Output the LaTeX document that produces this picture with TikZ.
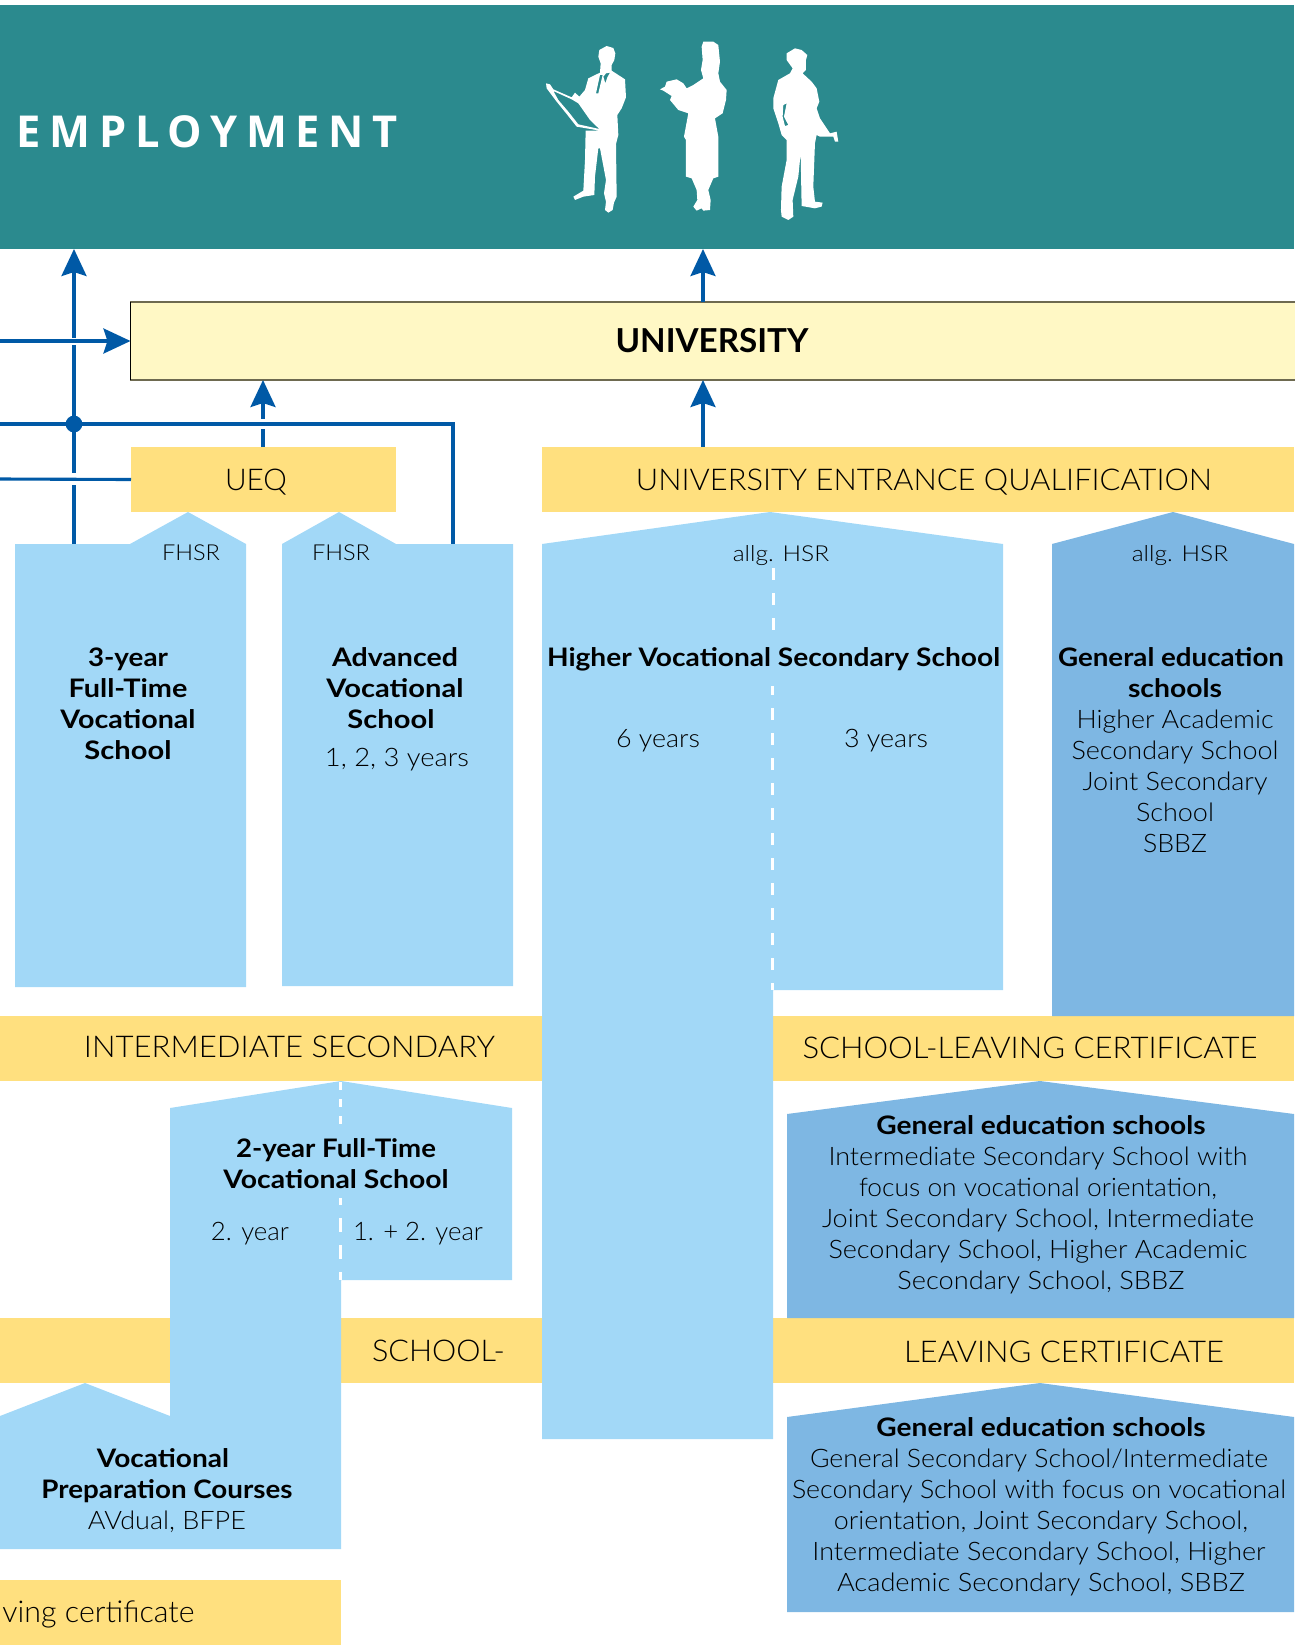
\documentclass[tikz,border=0pt]{standalone}
\usepackage{graphicx}
\usepackage{fontspec}
\setmainfont{Lato Light}[BoldFont={Lato Bold}]
\newfontfamily\empfont[LetterSpace=20]{Open Sans}
\usetikzlibrary{arrows.meta}
\definecolor{teal1}{HTML}{2B8A8E}
\definecolor{ltblue}{HTML}{A2D8F7}
\definecolor{dkblue}{HTML}{7EB7E3}
\definecolor{gold}{HTML}{FFE07F}
\definecolor{cream}{HTML}{FFF8C5}
\definecolor{flow}{HTML}{0059A6}
\definecolor{rim}{HTML}{6E6A50}
\newcommand\fw[2]{\resizebox{#1pt}{\height}{#2}}
\tikzset{
  bar/.style={fill=gold,inner sep=0pt,outer sep=0pt,text=black},
  lab/.style={inner sep=0pt,outer sep=0pt,align=center,text=black,font=\fontsize{25.5}{31}\selectfont},
  small/.style={lab,font=\fontsize{22}{26}\selectfont},
  caps/.style={inner sep=0pt,outer sep=0pt,text=black,font=\fontsize{30}{34}\selectfont},
  pale/.style={fill=ltblue},
  deep/.style={fill=dkblue},
  flowline/.style={draw=flow,line width=3.1pt},
  gapline/.style={draw=white,line width=6pt},
  arrowline/.style={flowline,-{Stealth[length=27pt,width=25pt,inset=4pt]}},
  splitline/.style={draw=white,line width=3pt,dash pattern=on 12pt off 13pt},
  person/.style={fill=white,even odd rule},
}
\begin{document}
\begin{tikzpicture}[x=1pt,y=-1pt]
\useasboundingbox (0,0) rectangle (1294,1647);
% employment band
\node[fill=teal1,inner sep=0pt,outer sep=0pt,minimum width=1294pt,minimum height=244pt] (emp) at (647,127) {};
\node[inner sep=0pt,text=white,anchor=base west,font=\fontsize{44}{48}\selectfont\empfont\bfseries] (emptxt) at (16.5,147) {\fw{381}{EMPLOYMENT}};
% people
\begin{scope}[shift={(500,20)},x=0.3333pt,y=-0.3333pt]
\fill[person] (320,78)--(340,84)--(346,100)--(343,120)--(335,135)--(335,152)--(375,178)--(378,232)--(365,265)--(352,285)--(355,345)--(348,372)--(350,530)--(342,548)--(338,570)--(325,578)--(315,570)--(318,545)--(312,520)--(318,480)--(300,385)--(295,385)--(285,470)--(283,525)--(250,530)--(225,540)--(220,530)--(250,512)--(255,420)--(257,332)--(300,332)--(230,320)--(200,282)--(170,245)--(140,205)--(138,190)--(150,193)--(160,208)--(215,232)--(225,218)--(238,230)--(255,210)--(265,175)--(300,158)--(302,130)--(295,110)--(298,90)--cycle
 (160,213)--(215,238)--(235,250)--(270,300)--(298,327)--(235,313)--(205,275)--(175,240)--cycle
 (300,165)--(308,165)--(295,220)--(288,220)--cycle
 (330,158)--(322,172)--(316,190)--(310,170)--(318,160)--cycle;
\fill[person] (610,65)--(640,65)--(655,75)--(660,125)--(655,160)--(660,185)--(680,210)--(678,240)--(668,280)--(645,295)--(655,350)--(655,470)--(640,475)--(625,510)--(632,540)--(630,570)--(610,572)--(605,565)--(590,572)--(580,560)--(592,540)--(590,510)--(575,475)--(558,470)--(558,360)--(552,350)--(565,280)--(535,270)--(510,240)--(515,228)--(490,212)--(480,208)--(495,200)--(500,185)--(530,178)--(550,190)--(560,205)--(580,195)--(610,175)--(603,150)--(608,120)--(605,80)--cycle;
\fill[person] (885,85)--(905,90)--(922,105)--(918,120)--(918,150)--(908,160)--(935,185)--(950,205)--(958,245)--(950,265)--(960,295)--(990,340)--(1010,335)--(1015,365)--(1005,365)--(1000,350)--(960,350)--(950,345)--(945,370)--(940,500)--(945,545)--(968,548)--(965,560)--(945,565)--(905,558)--(902,400)--(895,470)--(878,540)--(880,590)--(865,600)--(845,590)--(843,570)--(845,500)--(860,420)--(860,360)--(845,345)--(835,310)--(820,265)--(820,235)--(835,180)--(870,160)--(878,145)--(860,120)--(860,100)--cycle
 (850,255)--(860,250)--(852,290)--(865,315)--(855,318)--(848,290)--cycle;
\end{scope}
% university
\node[fill=cream,draw=rim,line width=1.2pt,inner sep=0pt,outer sep=0pt,minimum width=1180pt,minimum height=78pt] (uni) at (720.5,341) {};
\draw[black,line width=1pt] (uni.north west) -- (uni.south west);
\node[inner sep=0pt,font=\fontsize{33}{36}\selectfont\bfseries,anchor=base] (unitxt) at (712,352) {\fw{193}{UNIVERSITY}};
% yellow bars
\node[bar,minimum width=265pt,minimum height=65pt] (ueq) at (263.5,479.5) {};
\node[bar,minimum width=752pt,minimum height=65pt] (uqual) at (918,479.5) {};
\node[bar,minimum width=542pt,minimum height=65pt] (imedL) at (271,1048.5) {};
\node[bar,minimum width=521pt,minimum height=65pt] (imedR) at (1033.5,1048.5) {};
\node[bar,minimum width=542pt,minimum height=65pt] (leaveL) at (271,1350.5) {};
\node[bar,minimum width=521pt,minimum height=65pt] (leaveR) at (1033.5,1350.5) {};
\node[bar,minimum width=341pt,minimum height=65pt] (basic) at (170.5,1612.5) {};
% blue shapes
\fill[pale] (15,544)--(130,544)--(188,512)--(246,544)--(246,987)--(15,987)--cycle;
\fill[pale] (282,544)--(339,512)--(396,544)--(513,544)--(513,986)--(282,986)--cycle;
\fill[pale] (542,544)--(770,512)--(1003,544)--(1003,990)--(773,990)--(773,1439)--(542,1439)--cycle;
\fill[deep] (1052,544)--(1173,512)--(1294,544)--(1294,1016)--(1052,1016)--cycle;
\fill[deep] (787,1114)--(1040,1081)--(1294,1114)--(1294,1318)--(787,1318)--cycle;
\fill[deep] (787,1417)--(1040,1383)--(1294,1417)--(1294,1612)--(787,1612)--cycle;
\fill[pale] (170,1108)--(341,1081)--(512,1108)--(512,1280)--(341,1280)--(341,1549)--(0,1549)--(0,1416)--(85,1383)--(170,1416)--cycle;
% dashed dividers
\draw[splitline] (773,568)--(773,640);
\draw[splitline,dash phase=3pt] (772,686)--(772,990);
\draw[draw=white,line width=3pt,dash pattern=on 8pt off 9pt] (340,1082)--(340,1124);
\draw[draw=white,line width=3pt,dash pattern=on 7pt off 13pt] (340,1198)--(340,1205);
\draw[draw=white,line width=3pt,dash pattern=on 14pt off 13pt] (340,1218)--(340,1280);
% connectors
\coordinate (leftA) at (0,341);
\coordinate (leftB) at (0,424);
\coordinate (leftC) at (0,479);
\coordinate (voc3) at (74,544);
\coordinate (adv) at (453,544);
\coordinate (bend) at (453,424);
\coordinate (junction) at (74,424);
\draw[arrowline] (voc3) -- (voc3 |- emp.south);
\draw[gapline] (74,337.5) -- (74,344.5);
\draw[gapline] (74,473) -- (74,485);
\draw[arrowline] (leftA) -- (uni.west);
\draw[flowline] (leftC) -- (ueq.west);
\draw[arrowline] (uni.north -| 703,0) -- (emp.south -| 703,0);
\draw[arrowline] (uqual.north -| 703,0) -- (uni.south -| 703,0);
\draw[arrowline] (ueq.north -| 263,0) -- (uni.south -| 263,0);
\draw[gapline] (263,419) -- (263,429);
\draw[flowline] (leftB) -- (bend) -- (adv);
\fill[flow] (junction) circle (8.4pt);
% bar labels
\node[small,anchor=base] (ueqtxt) at (256,490) {\resizebox{62pt}{\height}{\fontsize{30}{34}\selectfont UEQ}};
\node[caps,anchor=base] (uqtxt) at (924,490) {\fw{576}{UNIVERSITY ENTRANCE QUALIFICATION}};
\node[caps,anchor=base] (imtxt) at (289.5,1057) {\fw{411}{INTERMEDIATE SECONDARY}};
\node[caps,anchor=base] (sltxt) at (1030,1058) {\fw{455}{SCHOOL-LEAVING CERTIFICATE}};
\node[caps,anchor=base] (sctxt) at (438.5,1361) {\fw{133}{SCHOOL-}};
\node[caps,anchor=base] (lctxt) at (1064,1362) {\fw{320}{LEAVING CERTIFICATE}};
\node[caps,anchor=base] (bstxt) at (98.5,1622) {\fw{192}{ving certificate}};
% small labels
\node[small,anchor=base] (f1) at (191,560) {\fw{58}{FHSR}};
\node[small,anchor=base] (f2) at (341,560) {\fw{58}{FHSR}};
\node[small,anchor=base] (h1) at (781,561) {\fw{96.5}{allg. HSR}};
\node[small,anchor=base] (h2) at (1180,561) {\fw{96.5}{allg. HSR}};
% school labels
\node[lab,anchor=north] (t3y) at (128,648) {\fw{80}{\textbf{3-year}}\\\fw{119}{\textbf{Full-Time}}\\\fw{135}{\textbf{Vocational}}\\\fw{87}{\textbf{School}}};
\node[lab,anchor=north] (tadv) at (395,648) {\fw{126}{\textbf{Advanced}}\\\fw{137}{\textbf{Vocational}}\\\fw{87}{\textbf{School}}\hspace*{8pt}};
\node[lab,anchor=base] (tadvy) at (397,766) {\fw{144}{1, 2, 3 years}};
\node[lab,anchor=base] (thv) at (773.5,666) {\fw{453}{\textbf{Higher Vocational Secondary School}}};
\node[lab,anchor=base] (t6) at (658,747) {\fw{84}{6 years}};
\node[lab,anchor=base] (t3) at (886,747) {\fw{84}{3 years}};
\node[lab,anchor=north] (tgen) at (1175,648) {\fw{226}{\textbf{General education}}\hspace*{8pt}\\\fw{94}{\textbf{schools}}\\\fw{197}{Higher Academic}\\\fw{207}{Secondary School}\\\fw{185}{Joint Secondary}\\\fw{78}{School}\\\fw{64}{SBBZ}};
\node[lab,anchor=north] (t2y) at (336,1139) {\fw{200}{\textbf{2-year Full-Time}}\\\fw{225}{\textbf{Vocational School}}};
\node[lab,anchor=base] (t2a) at (250,1240) {\fw{78}{2. year}};
\node[lab,anchor=base] (t2b) at (418,1240) {\fw{130}{1. + 2. year}};
\node[lab,anchor=north] (tg2) at (1038,1116) {\hspace*{6pt}\fw{329}{\textbf{General education schools}}\\\fw{419}{Intermediate Secondary School with}\\\fw{358}{focus on vocational orientation,}\\\fw{432}{Joint Secondary School, Intermediate}\\\fw{419}{Secondary School, Higher Academic}\\\hspace*{6pt}\fw{287}{Secondary School, SBBZ}};
\node[lab,anchor=north] (tg3) at (1039,1418) {\hspace*{4pt}\fw{329}{\textbf{General education schools}}\\\fw{458}{General Secondary School/Intermediate}\\\fw{494}{Secondary School with focus on vocational}\\\hspace*{4pt}\fw{414}{orientation, Joint Secondary School,}\\\fw{453}{Intermediate Secondary School, Higher}\\\hspace*{4pt}\fw{408}{Academic Secondary School, SBBZ}};
\node[lab,anchor=north] (tvp) at (167,1448.5) {\fw{132}{\textbf{Vocational}}\hspace*{8pt}\\\fw{251}{\textbf{Preparation Courses}}\\\fw{158}{AVdual, BFPE}};
\end{tikzpicture}
\end{document}
